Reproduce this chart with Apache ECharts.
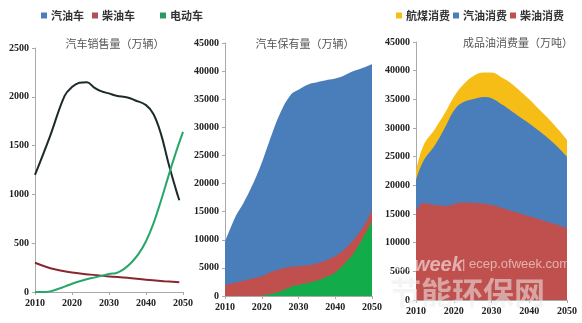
<!DOCTYPE html>
<html><head><meta charset="utf-8">
<script src="https://cdn.jsdelivr.net/npm/echarts@6/dist/echarts.min.js"></script>
<style>html,body{margin:0;padding:0;background:#fff}#c{width:582px;height:323px}</style>
</head><body><div id="c"></div>
<script>
// Panel 1: 汽车销售量（万辆）
const salesGasYears = [2010,2014,2018,2020,2022,2024,2026,2028,2030,2032,2035,2037,2040,2042,2044,2046,2048,2049];
const salesGas = [1200,1590,2010,2100,2145,2150,2095,2055,2035,2010,1993,1965,1915,1824,1625,1330,1062,940];
const salesDieselYears = [2010,2015,2020,2025,2030,2035,2040,2045,2049];
const salesDiesel = [300,235,200,178,160,145,125,110,100];
const salesEVYears = [2010,2013,2015,2018,2020,2023,2025,2028,2030,2032,2034,2036,2038,2040,2042,2044,2046,2048,2050];
const salesEV = [0,0,15,55,85,120,140,165,185,195,235,300,390,520,700,930,1180,1420,1640];

// Panel 2: 汽车保有量（万辆） stacked (bottom to top: 电动车, 柴油车, 汽油车)
const stockYears = [2010,2013,2015,2018,2020,2022,2025,2028,2030,2033,2035,2038,2040,2042,2045,2048,2050];
const stockEV = [0,0,0,0,50,300,800,1650,1950,2400,2700,3500,4200,5400,7600,10900,13200];
const stockDiesel = [1950,2400,2700,3200,3450,3800,3950,3550,3350,3100,3100,2950,2900,2600,2400,1800,2100];
const stockGas = [7650,11900,13800,17300,20200,23300,27750,30700,31400,32200,32200,32000,31600,31100,30000,28000,25900];

// Panel 3: 成品油消费量（万吨） stacked (bottom to top: 柴油, 汽油, 航煤)
const oilYears = [2010,2012,2015,2018,2020,2022,2025,2028,2030,2033,2035,2038,2040,2043,2045,2048,2050];
const oilDiesel = [15500,16900,16550,16400,16700,17000,16950,16800,16600,16000,15600,15000,14600,14000,13600,13000,12500];
const oilGas = [5500,7400,10450,14100,16300,17300,18050,18600,18600,18000,17500,16700,16200,15300,14600,13400,12500];
const oilJet = [1500,2700,2800,2500,2400,2900,4000,4300,4500,4700,4800,4500,4200,3700,3500,3100,2900];

const titles = ['汽车销售量（万辆）','汽车保有量（万辆）','成品油消费量（万吨）'];
const legendNames1 = ['汽油车','柴油车','电动车'];
const legendNames3 = ['航煤消费','汽油消费','柴油消费'];

const pair = (xs, ys) => xs.map((x,i)=>[x, ys[i]]);
const cum = (...arrs) => arrs[0].map((_,i)=>arrs.reduce((s,a)=>s+a[i],0));

const labelFont = {fontFamily:'Liberation Serif', fontWeight:'bold', fontSize:10, color:'#222', formatter:v=>String(v)};
function xAx(gi){
  return {type:'value', gridIndex:gi, min:2010, max:2050, interval:10,
    axisLine:{lineStyle:{color:'#aaa'}}, axisTick:{show:true,length:3,lineStyle:{color:'#aaa'}},
    splitLine:{show:false}, axisLabel:Object.assign({margin:6}, labelFont)};
}
function yAx(gi, max, interval){
  return {type:'value', gridIndex:gi, min:0, max:max, interval:interval,
    axisLine:{show:true,lineStyle:{color:'#aaa'}}, axisTick:{show:true,length:3,lineStyle:{color:'#aaa'}},
    splitLine:{show:false}, axisLabel:Object.assign({margin:6}, labelFont)};
}
const legFont = {fontFamily:'Noto Sans CJK SC', fontSize:11, fontWeight:'bold', color:'#333'};
function leg(name, left){
  return {data:[name], left:left, top:5, icon:'rect', itemWidth:6, itemHeight:6, itemGap:0,
    textStyle:Object.assign({padding:[0,0,0,-1]}, legFont), selectedMode:false};
}
const titleStyle = {fontFamily:'Noto Sans CJK SC', fontSize:11, fontWeight:'normal', color:'#555'};

const C = {
  black:'#1d2a2b', darkred:'#8a2630', green:'#26a769',
  blue:'#4a7ebb', red:'#c0504d', green2:'#12ad4a', yellow:'#f6bd16'
};

function area(name, gi, xs, ys, color, z){
  return {name:name, type:'line', xAxisIndex:gi, yAxisIndex:gi, data:pair(xs, ys), z:z,
    smooth:0.4, showSymbol:false, lineStyle:{width:0}, areaStyle:{color:color, opacity:1}, itemStyle:{color:color}};
}

const option = {
  animation:false,
  backgroundColor:'#fff',
  title: [
    {text:titles[0], left:110, top:33, textAlign:'center', textStyle:titleStyle},
    {text:titles[1], left:300, top:33, textAlign:'center', textStyle:titleStyle},
    {text:titles[2], left:513, top:32, textAlign:'center', textStyle:titleStyle}
  ],
  legend: [
    leg(legendNames1[0], 36), leg(legendNames1[1], 87), leg(legendNames1[2], 155),
    leg(legendNames3[0], 391), leg(legendNames3[1], 448), leg(legendNames3[2], 505)
  ],
  grid: [
    {left:35, top:48, width:148, height:244},
    {left:225, top:43, width:147, height:253},
    {left:416, top:42, width:151, height:258}
  ],
  xAxis:[xAx(0), xAx(1), xAx(2)],
  yAxis:[yAx(0,2500,500), yAx(1,45000,5000), yAx(2,45000,5000)],
  series: [
    {name:'汽油车', type:'line', xAxisIndex:0, yAxisIndex:0, data:pair(salesGasYears, salesGas),
      smooth:0.4, showSymbol:false, lineStyle:{width:2, color:C.black}, itemStyle:{color:'#4a7ebb'}},
    {name:'柴油车', type:'line', xAxisIndex:0, yAxisIndex:0, data:pair(salesDieselYears, salesDiesel),
      smooth:0.4, showSymbol:false, lineStyle:{width:2, color:C.darkred}, itemStyle:{color:'#b0505a'}},
    {name:'电动车', type:'line', xAxisIndex:0, yAxisIndex:0, data:pair(salesEVYears, salesEV),
      smooth:0.4, showSymbol:false, lineStyle:{width:2, color:C.green}, itemStyle:{color:'#2a9a64'}},

    area('汽油车保有', 1, stockYears, cum(stockEV, stockDiesel, stockGas), C.blue, 2),
    area('柴油车保有', 1, stockYears, cum(stockEV, stockDiesel), C.red, 3),
    area('电动车保有', 1, stockYears, cum(stockEV), C.green2, 4),

    area('航煤消费', 2, oilYears, cum(oilDiesel, oilGas, oilJet), C.yellow, 2),
    area('汽油消费', 2, oilYears, cum(oilDiesel, oilGas), C.blue, 3),
    area('柴油消费', 2, oilYears, cum(oilDiesel), C.red, 4)
  ],
  graphic: [
    {type:'text', left:395, top:255, z:100, style:{text:'ofweek', fill:'rgba(255,255,255,0.55)', font:'italic bold 20px "Liberation Sans"'}},
    {type:'text', left:462, top:258, z:100, style:{text:'| ecep.ofweek.com', fill:'rgba(255,255,255,0.55)', font:'13px "Liberation Sans"'}},
    {type:'text', left:390, top:277, z:100, style:{text:'节能环保网', fill:'rgba(235,235,235,0.55)', font:'bold 31px "Noto Sans CJK SC"'}}
  ]
};
echarts.init(document.getElementById('c')).setOption(option);
</script></body></html>
